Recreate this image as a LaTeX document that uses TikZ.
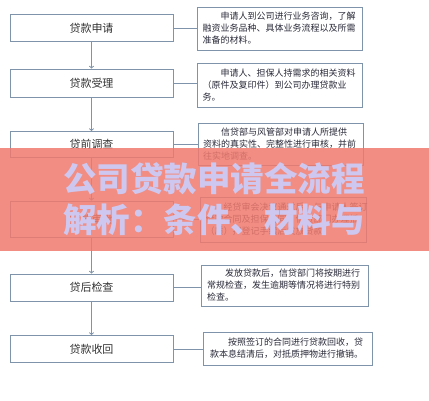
\documentclass[tikz,border=0pt]{standalone}
\usepackage{fontspec}
\setmainfont{Noto Sans CJK SC}
\usetikzlibrary{arrows, positioning}
\definecolor{boxline}{HTML}{7F93AA}
\definecolor{stagetext}{HTML}{333333}
\definecolor{notetext}{HTML}{2A2A3A}
\definecolor{banner}{HTML}{EF7A6E}
\definecolor{titletext}{HTML}{CEC8F0}
\tikzstyle{stagebox} = [rectangle, draw=boxline, line width=0.8pt, fill=white, minimum width=163pt, minimum height=27pt, inner sep=0pt, text centered, text=stagetext, font=\fontsize{11}{13}\selectfont]
\tikzstyle{notebox} = [rectangle, draw=boxline, line width=0.8pt, fill=white, minimum width=165pt, minimum height=43pt, inner xsep=5pt, inner ysep=0pt, text width=155pt, align=left, text=notetext, font=\fontsize{9}{12}\selectfont]
\tikzstyle{arrow} = [boxline, line width=0.9pt, ->, >=to]
\tikzstyle{link} = [boxline, line width=0.8pt]

\begin{document}
\begin{tikzpicture}[x=1pt, y=-1pt]
  \useasboundingbox (0,0) rectangle (429,400);
  \fill[white] (0,0) rectangle (429,400);

  % stages on the left
  \node (apply) [stagebox] at (91.5,28) {贷款申请};
  \node (accept) [stagebox, minimum height=28pt] at (91.5,83) {贷款受理};
  \node (survey) [stagebox, minimum height=26pt] at (91.5,144.5) {贷前调查};
  \node (approve) [stagebox, minimum height=36pt] at (91.5,219) {贷款审批};
  \node (check) [stagebox] at (91.5,287.5) {贷后检查};
  \node (recover) [stagebox] at (91.5,349) {贷款收回};

  % notes on the right
  \node (applynote) [notebox] at (280,28.5) {\hspace*{2em}申请人到公司进行业务咨询，了解\\融资业务品种、具体业务流程以及所需\\准备的材料。};
  \node (acceptnote) [notebox, minimum height=44pt] at (280,85) {\hspace*{2em}申请人、担保人持需求的相关资料\\（原件及复印件）到公司办理贷款业\\务。};
  \node (surveynote) [notebox, minimum height=42pt] at (280.5,144) {\hspace*{2em}信贷部与风管部对申请人所提供\\资料的真实性、完整性进行审核，并前\\往实地调查。};
  \node (approvenote) [notebox, minimum width=166pt, minimum height=45pt] at (283,219.5) {\hspace*{2em}经贷审会决议通过后，与申请人签订\\借款合同及担保合同，信贷部门办理抵\\（质）押登记手续后发放贷款。};
  \node (checknote) [notebox, minimum width=167pt, minimum height=41pt] at (284.5,285.5) {\hspace*{2em}发放贷款后，信贷部门将按期进行\\常规检查，发生逾期等情况将进行特别\\检查。};
  \node (recovernote) [notebox, minimum width=169pt, minimum height=33pt] at (287.5,348.5) {\hspace*{2em}按照签订的合同进行贷款回收，贷\\款本息结清后，对抵质押物进行撤销。};

  \draw [arrow] (apply) -- (accept);
  \draw [arrow] (accept) -- (survey);
  \draw [arrow] (survey) -- (approve);
  \draw [arrow] (approve) -- (check);
  \draw [arrow] (check) -- (recover);

  \draw [link] (apply.east) -- (apply.east -| applynote.west);
  \draw [link] (accept.east) -- (accept.east -| acceptnote.west);
  \draw [link] (survey.east) -- (survey.east -| surveynote.west);
  \draw [link] (approve.east) -- (approve.east -| approvenote.west);
  \draw [link] (check.east) -- (check.east -| checknote.west);
  \draw [link] (recover.east) -- (recover.east -| recovernote.west);

  % banner across the middle
  \fill [banner, fill opacity=0.85] (0,148) rectangle (429,251);
  \node (title) [text=titletext, font=\bfseries\fontsize{33.5}{41}\selectfont, align=center, inner sep=0pt] at (214,199) {公司贷款申请全流程\\解析：条件、材料与};
\end{tikzpicture}
\end{document}
